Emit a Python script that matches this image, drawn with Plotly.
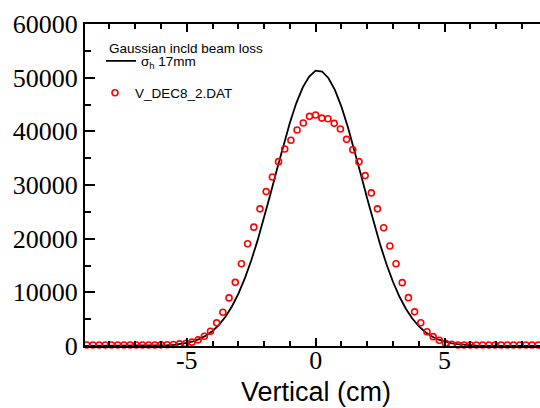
import plotly.graph_objects as go

# ---- data ----
line_x = [-9.0, -6.25, -6.0, -5.75, -5.5, -5.25, -5.0, -4.75, -4.5, -4.25, -4.0, -3.75, -3.5,
          -3.25, -3.0, -2.75, -2.5, -2.25, -2.0, -1.75, -1.5, -1.25, -1.0, -0.75, -0.5,
          -0.25, 0.0, 0.25, 0.5, 0.75, 1.0, 1.25, 1.5, 1.75, 2.0, 2.25, 2.5, 2.75, 3.0,
          3.25, 3.5, 3.75, 4.0, 4.25, 4.5, 4.75, 5.0, 5.25, 5.5, 5.75, 6.0, 6.25, 9.0]
line_y = [0, 50, 82, 138, 226, 363, 570, 876, 1319, 1942, 2800, 3950, 5450,
          7356, 9727, 12585, 15930, 19730, 23920, 28380, 32940, 37430, 41610, 45270, 48200,
          50220, 51300, 51150, 49900, 47680, 44600, 40810, 36550, 32030, 27470, 23060, 18940, 15220, 11970,
          9220, 6942, 5120, 3694, 2607, 1800, 1217, 806, 522, 330, 205, 124, 70, 0]

red_x = [-8.88, -8.64, -8.40, -8.16, -7.92, -7.68, -7.44, -7.20, -6.96, -6.72, -6.48, -6.24,
         -6.00, -5.76, -5.52, -5.28, -5.04, -4.80, -4.56, -4.32, -4.08, -3.84, -3.60, -3.36,
         -3.12, -2.88, -2.64, -2.40, -2.16, -1.92, -1.68, -1.44, -1.20, -0.96, -0.72, -0.48,
         -0.24, 0.00, 0.24, 0.48, 0.72, 0.96, 1.20, 1.44, 1.68, 1.92, 2.16, 2.40,
         2.64, 2.88, 3.12, 3.36, 3.60, 3.84, 4.08, 4.32, 4.56, 4.80, 5.04, 5.28,
         5.52, 5.76, 6.00, 6.24, 6.48, 6.72, 6.96, 7.20, 7.44, 7.68, 7.92, 8.16,
         8.40, 8.64]
red_y = [200, 200, 200, 200, 200, 200, 200, 200, 200, 200, 200, 200,
         210, 230, 280, 400, 460, 720, 1150, 1820, 2760, 4310, 6280, 8960,
         11860, 15330, 19050, 22150, 25560, 28770, 31500, 34350, 36710, 38330, 40240, 41540,
         42790, 43030, 42470, 42340, 41490, 40430, 38510, 36580, 34350, 31750, 28530, 25560,
         22030, 18620, 15330, 11800, 9010, 6360, 4340, 2650, 1740, 1080, 520, 330,
         200, 200, 200, 200, 200, 200, 200, 200, 200, 200, 200, 200,
         200, 200]

x_tickvals = [-5, 0, 5]
x_ticktext = ["-5", "0", "5"]
y_tickvals = [0, 10000, 20000, 30000, 40000, 50000, 60000]
y_ticktext = ["0", "10000", "20000", "30000", "40000", "50000", "60000"]

line_name = "σ<sub>h</sub> 17mm"
red_name = "V_DEC8_2.DAT"
legend_heading = "Gaussian incld beam loss"
x_title = "Vertical (cm)"

SERIF = "Liberation Serif"
SANS = "Liberation Sans"

# plot-area geometry in pixels (for placing text blocks)
L, T, R, B = 85, 24, 540, 346
def px_x(px):
    return (px - L) / (R - L)
def px_y(py):
    return (B - py) / (B - T)

fig = go.Figure()
fig.add_trace(go.Scatter(
    x=line_x, y=line_y, mode="lines", name=line_name,
    line=dict(color="black", width=1.8), legend="legend"))
fig.add_trace(go.Scatter(
    x=red_x, y=red_y, mode="markers", name=red_name, cliponaxis=False,
    marker=dict(symbol="circle-open", size=6, color="#ff0000",
                line=dict(width=1.6, color="#ff0000")),
    legend="legend2"))

tickfont = dict(family=SERIF, size=26, color="black")

fig.update_layout(
    width=540, height=408,
    margin=dict(l=L, r=540 - R, t=T, b=408 - B, autoexpand=False),
    paper_bgcolor="white", plot_bgcolor="white",
    xaxis=dict(
        range=[-8.95, 8.706], showline=True, linecolor="black", linewidth=2,
        mirror="ticks", ticks="inside", ticklen=8, tickwidth=1.5, tickcolor="black",
        tickmode="array", tickvals=x_tickvals, ticktext=x_ticktext, tickfont=tickfont,
        ticklabelstandoff=-10,
        minor=dict(tickmode="linear", tick0=0, dtick=1, ticks="inside", ticklen=5,
                   tickwidth=1.5, tickcolor="black", showgrid=False),
        showgrid=False, zeroline=False, automargin=False,
    ),
    yaxis=dict(
        range=[0, 60000], showline=True, linecolor="black", linewidth=2,
        ticks="inside", ticklen=10, tickwidth=1.5, tickcolor="black",
        tickmode="array", tickvals=y_tickvals, ticktext=y_ticktext, tickfont=tickfont,
        minor=dict(tickmode="linear", tick0=0, dtick=5000, ticks="inside", ticklen=6,
                   tickwidth=1.5, tickcolor="black", showgrid=False),
        showgrid=False, zeroline=False, automargin=False,
    ),
    yaxis2=dict(
        overlaying="y", side="right", anchor="x", range=[0, 60000],
        tickmode="array", tickvals=y_tickvals, ticks="inside", ticklen=4, tickwidth=1.5,
        tickcolor="black", showticklabels=False, showline=False, showgrid=False,
        zeroline=False, automargin=False,
    ),
    legend=dict(x=px_x(101), y=px_y(61), xanchor="left", yanchor="middle",
                bgcolor="rgba(0,0,0,0)", borderwidth=0,
                itemwidth=30, font=dict(family=SANS, size=13.5, color="black")),
    legend2=dict(x=px_x(95), y=px_y(93), xanchor="left", yanchor="middle",
                 bgcolor="rgba(0,0,0,0)", borderwidth=0,
                 itemwidth=30, font=dict(family=SANS, size=13.5, color="black")),
    showlegend=True,
    annotations=[
        dict(text=legend_heading, xref="paper", yref="paper",
             x=px_x(107), y=px_y(48), xanchor="left", yanchor="middle",
             showarrow=False, font=dict(family=SANS, size=13.5, color="black")),
        dict(text=x_title, xref="paper", yref="paper",
             x=px_x(316), y=px_y(392), xanchor="center", yanchor="middle",
             showarrow=False, font=dict(family=SANS, size=27, color="black")),
    ],
)

fig.write_html("out.html", config={"displayModeBar": False},
               post_script="document.body.style.margin='0px';")
